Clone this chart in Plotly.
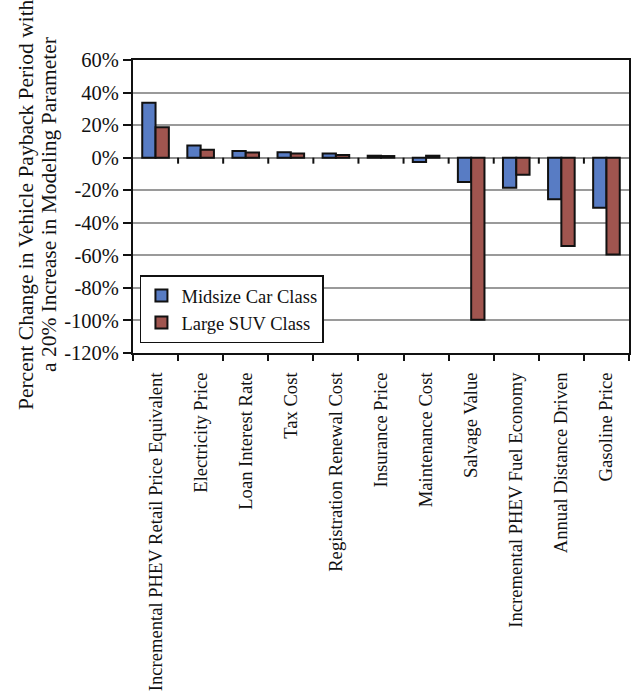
import plotly.graph_objects as go

categories = [
    "Incremental PHEV Retail Price Equivalent",
    "Electricity Price",
    "Loan Interest Rate",
    "Tax Cost",
    "Registration Renewal Cost",
    "Insurance Price",
    "Maintenance Cost",
    "Salvage Value",
    "Incremental PHEV Fuel Economy",
    "Annual Distance Driven",
    "Gasoline Price",
]
midsize_car = [33.8, 7.4, 4.1, 3.3, 2.5, 1.2, -2.7, -15.0, -18.5, -25.6, -30.8]
large_suv = [18.7, 4.9, 3.1, 2.5, 1.7, 1.0, 1.2, -99.5, -10.5, -54.3, -59.5]
series_names = ["Midsize Car Class", "Large SUV Class"]
y_tickvals = [60, 40, 20, 0, -20, -40, -60, -80, -100, -120]
y_ticktext = ["60%", "40%", "20%", "0%", "-20%", "-40%", "-60%", "-80%", "-100%", "-120%"]
y_title_lines = [
    "Percent Change in Vehicle Payback Period with",
    "a 20% Increase in Modeling Parameter",
]

FONT = "Liberation Serif, Times New Roman, serif"
BLUE = "#587CC4"
RED = "#A0554F"

fig = go.Figure()
for name, vals, color in [
    (series_names[0], midsize_car, BLUE),
    (series_names[1], large_suv, RED),
]:
    fig.add_trace(go.Bar(
        x=categories, y=vals, name=name,
        marker=dict(color=color, line=dict(color="#111111", width=2)),
    ))

# small tick marks along the zero line between categories
for i in range(len(categories) - 1):
    fig.add_shape(
        type="line", xref="x", yref="y",
        x0=i + 0.5, x1=i + 0.5,
        ysizemode="pixel", yanchor=0, y0=0, y1=-6,
        line=dict(color="#111111", width=2),
    )

# two-line rotated y-axis title
for line, shift in zip(y_title_lines, [-107, -84]):
    fig.add_annotation(
        text=line, xref="paper", yref="paper", x=0, y=0.505,
        xanchor="center", yanchor="middle", xshift=shift,
        textangle=-90, showarrow=False,
        font=dict(family=FONT, size=21.5, color="#111111"),
    )

fig.update_layout(
    width=637, height=697,
    margin=dict(l=133, r=6, t=60, b=343),
    paper_bgcolor="white", plot_bgcolor="white",
    barmode="group", bargap=0.41, bargroupgap=0,
    font=dict(family=FONT, size=18, color="#111111"),
    showlegend=True,
    legend=dict(
        x=0.014, y=0.265, xanchor="left", yanchor="top",
        bgcolor="white", bordercolor="#111111", borderwidth=1.5,
        font=dict(family=FONT, size=18.5, color="#111111"),
        tracegroupgap=2, itemwidth=30,
    ),
)
fig.update_xaxes(
    showline=True, linecolor="#111111", linewidth=2, mirror=True,
    ticks="outside", tickson="boundaries", ticklen=6, tickwidth=2,
    tickcolor="#111111", tickangle=-90, showgrid=False,
    tickfont=dict(family=FONT, size=18.6, color="#111111"),
    ticklabelstandoff=10,
)
fig.update_yaxes(
    range=[-120, 60], tickvals=y_tickvals, ticktext=y_ticktext,
    showline=True, linecolor="#111111", linewidth=2, mirror=True,
    ticks="outside", ticklen=8, tickwidth=2, tickcolor="#111111",
    showgrid=True, gridcolor="#9A9A9A", gridwidth=2,
    zeroline=True, zerolinecolor="#8A8A8A", zerolinewidth=2,
    tickfont=dict(family=FONT, size=20.5, color="#111111"),
)

fig.write_html("out.html")
